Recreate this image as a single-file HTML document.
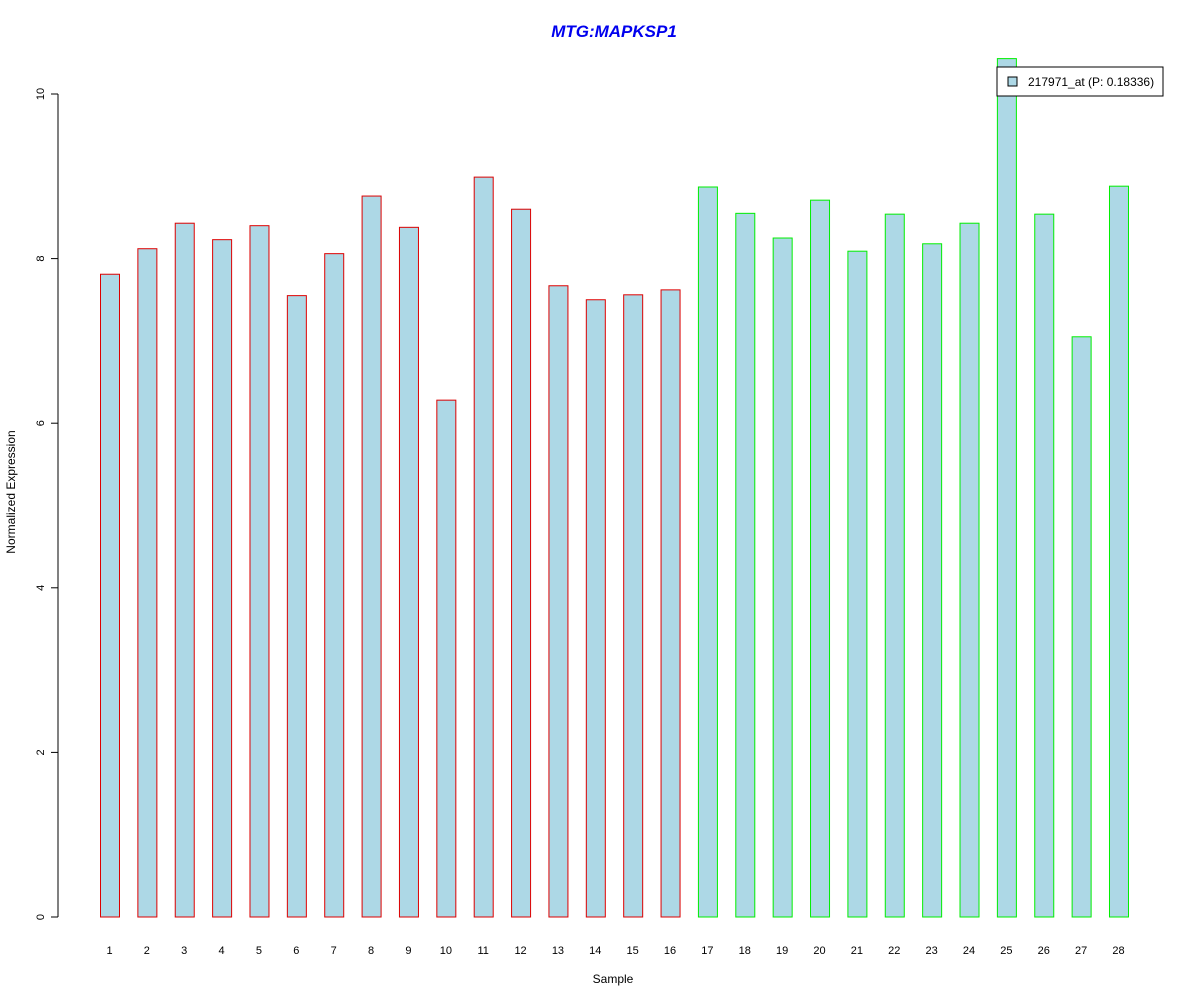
<!DOCTYPE html>
<html><head><meta charset="utf-8"><style>body{margin:0;background:#fff}svg{display:block}text{font-family:"Liberation Sans",Arial,sans-serif}</style></head>
<body>
<svg id="chart" width="1200" height="1000" xmlns="http://www.w3.org/2000/svg">
<text x="614" y="37" text-anchor="middle" font-size="17" font-weight="bold" font-style="italic" fill="#0000ee">MTG:MAPKSP1</text>
<text x="613" y="983" text-anchor="middle" font-size="12">Sample</text>
<text transform="translate(15,492) rotate(-90)" text-anchor="middle" font-size="12">Normalized Expression</text>
<g id="yaxis"></g>
<g id="bars"></g>
<g id="xlabels"></g>
<g>
<rect x="997" y="67" width="166" height="29" fill="#fff" stroke="#000"/>
<rect x="1008" y="77" width="9" height="9" fill="#add8e6" stroke="#000"/>
<text x="1028" y="86" font-size="12">217971_at (P: 0.18336)</text>
</g>
</svg>
<script>
const categories=["1","2","3","4","5","6","7","8","9","10","11","12","13","14","15","16","17","18","19","20","21","22","23","24","25","26","27","28"];
const values=[7.81,8.12,8.43,8.23,8.40,7.55,8.06,8.76,8.38,6.28,8.99,8.60,7.67,7.50,7.56,7.62,8.87,8.55,8.25,8.71,8.09,8.54,8.18,8.43,10.43,8.54,7.05,8.88];
const groups=[0,0,0,0,0,0,0,0,0,0,0,0,0,0,0,0,1,1,1,1,1,1,1,1,1,1,1,1];
const yTicks=[0,2,4,6,8,10];
const NS="http://www.w3.org/2000/svg";
const y=v=>917-v*82.3;
const x=i=>100+i*37.37;
const bw=19;
const ya=document.getElementById("yaxis");
let l=document.createElementNS(NS,"line");
l.setAttribute("x1",58);l.setAttribute("x2",58);l.setAttribute("y1",y(yTicks[0]));l.setAttribute("y2",y(yTicks[yTicks.length-1]));l.setAttribute("stroke","#000");


ya.appendChild(l);
yTicks.forEach(t=>{
 const tk=document.createElementNS(NS,"line");
 tk.setAttribute("x1",51);tk.setAttribute("x2",58);tk.setAttribute("y1",y(t));tk.setAttribute("y2",y(t));tk.setAttribute("stroke","#000");
 
 
 ya.appendChild(tk);
 const tx=document.createElementNS(NS,"text");
 tx.setAttribute("transform",`translate(44,${y(t)}) rotate(-90)`);tx.setAttribute("text-anchor","middle");tx.setAttribute("font-size","11");tx.textContent=t;
 
 
 ya.appendChild(tx);
});
const bg=document.getElementById("bars"),xl=document.getElementById("xlabels");
values.forEach((v,i)=>{
 const r=document.createElementNS(NS,"rect");
 r.setAttribute("x",x(i)+0.5);r.setAttribute("y",y(v));r.setAttribute("width",bw);r.setAttribute("height",y(0)-y(v));
 r.setAttribute("fill","#add8e6");r.setAttribute("stroke",groups[i]?"#00ee00":"#dd0000");
 
 
 bg.appendChild(r);
 const t=document.createElementNS(NS,"text");
 t.setAttribute("x",x(i)+bw/2);t.setAttribute("y",954);t.setAttribute("text-anchor","middle");t.setAttribute("font-size","11");t.textContent=categories[i];
 
 
 xl.appendChild(t);
});
</script>
</body></html>
